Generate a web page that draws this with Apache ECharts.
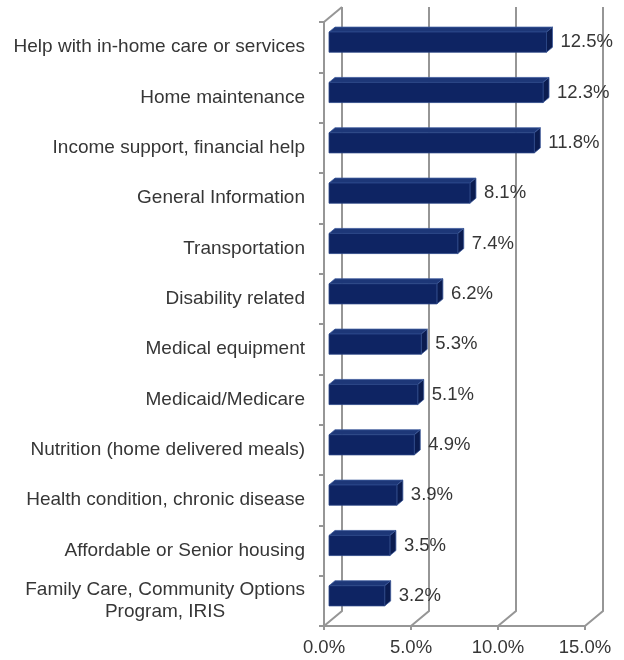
<!DOCTYPE html>
<html>
<head>
<meta charset="utf-8">
<style>
  html, body { margin: 0; padding: 0; background: #ffffff; }
  #chart { width: 624px; height: 660px; }
</style>
<script src="https://cdn.jsdelivr.net/npm/echarts@6/dist/echarts.min.js"></script>
</head>
<body>
<div id="chart"></div>
<script>
// Needs reported, share of requests (%)
const categories = [
  'Help with in-home care or services',
  'Home maintenance',
  'Income support, financial help',
  'General Information',
  'Transportation',
  'Disability related',
  'Medical equipment',
  'Medicaid/Medicare',
  'Nutrition (home delivered meals)',
  'Health condition, chronic disease',
  'Affordable or Senior housing',
  'Family Care, Community Options\nProgram, IRIS'
];
const shares = [12.5, 12.3, 11.8, 8.1, 7.4, 6.2, 5.3, 5.1, 4.9, 3.9, 3.5, 3.2];
const axisTicks = [0, 5, 10, 15];

const FONT = "'Liberation Sans', Arial, sans-serif";
const TEXT = '#363636';
const LINE = '#969696';

// depth of the 3D box (back wall offset) and of each bar
const WALL_DX = 18, WALL_DY = -15;
const BAR_DX = 5, BAR_EX = 6, BAR_EY = -5;

const chart = echarts.init(document.getElementById('chart'), null, { renderer: 'canvas' });

function renderWall(params, api) {
  const cs = params.coordSys;
  const v = api.value(0);
  const x = api.coord([v, 0])[0];
  const top = cs.y, bottom = cs.y + cs.height;
  const style = { stroke: LINE, lineWidth: 2, fill: null };
  const children = [{
    type: 'polyline',
    shape: { points: [[x, bottom], [x + WALL_DX, bottom + WALL_DY], [x + WALL_DX, top + WALL_DY]] },
    style: style
  }];
  if (v === axisTicks[0]) {
    children.push({
      type: 'line',
      shape: { x1: x, y1: top, x2: x + WALL_DX, y2: top + WALL_DY },
      style: style
    });
  }
  return { type: 'group', children: children };
}

function renderBar(params, api) {
  const idx = api.value(1);
  const val = api.value(0);
  const end = api.coord([val, idx]);
  const start = api.coord([0, idx]);
  const band = api.size([0, 1])[1];
  const h = band * 0.4;
  const yc = end[1] - 5;
  const y0 = yc - h / 2, y1 = yc + h / 2;
  const x0 = start[0] + BAR_DX, x1 = end[0] + BAR_DX;
  return {
    type: 'group',
    children: [
      { // top face
        type: 'polygon',
        shape: { points: [[x0, y0], [x0 + BAR_EX, y0 + BAR_EY], [x1 + BAR_EX, y0 + BAR_EY], [x1, y0]] },
        style: { fill: '#1d3778', stroke: '#3e5b9c', lineWidth: 0.8 }
      },
      { // end face
        type: 'polygon',
        shape: { points: [[x1, y0], [x1 + BAR_EX, y0 + BAR_EY], [x1 + BAR_EX, y1 + BAR_EY], [x1, y1]] },
        style: { fill: '#0b1c50', stroke: '#3e5b9c', lineWidth: 0.8 }
      },
      { // front face
        type: 'rect',
        shape: { x: x0, y: y0, width: x1 - x0, height: y1 - y0 },
        style: { fill: '#0e2463', stroke: '#2a4585', lineWidth: 0.8 }
      },
      {
        type: 'text',
        style: {
          x: x1 + BAR_EX + 8,
          y: yc,
          text: val.toFixed(1) + '%',
          fill: TEXT,
          font: '18.5px ' + FONT,
          verticalAlign: 'middle',
          align: 'left'
        }
      }
    ]
  };
}

const option = {
  backgroundColor: '#ffffff',
  animation: false,
  grid: { left: 324, right: 39, top: 22, bottom: 34, outerBoundsMode: 'none' },
  xAxis: {
    type: 'value',
    min: 0,
    max: 15,
    interval: 5,
    splitLine: { show: false },
    axisLine: { show: true, lineStyle: { color: LINE, width: 2 } },
    axisTick: { show: true, length: 4, lineStyle: { color: LINE, width: 2 } },
    axisLabel: {
      margin: 12,
      color: TEXT,
      fontFamily: FONT,
      fontSize: 18.5,
      formatter: v => v.toFixed(1) + '%'
    }
  },
  yAxis: {
    type: 'category',
    inverse: true,
    data: categories,
    axisLine: { show: true, lineStyle: { color: LINE, width: 2 } },
    axisTick: { show: true, length: 5, lineStyle: { color: LINE, width: 2 } },
    splitLine: { show: false },
    axisLabel: {
      margin: 19,
      color: TEXT,
      fontFamily: FONT,
      fontSize: 19,
      formatter: s => s.split('\n').map(t => '{c|' + t + '}').join('\n'),
      rich: {
        c: { fontFamily: FONT, fontSize: 19, color: TEXT, align: 'center', lineHeight: 22 }
      }
    }
  },
  series: [
    {
      type: 'custom',
      z: 1,
      clip: false,
      silent: true,
      renderItem: renderWall,
      data: axisTicks.map(v => [v, 0])
    },
    {
      type: 'custom',
      z: 2,
      clip: false,
      renderItem: renderBar,
      encode: { x: 0, y: 1 },
      data: shares.map((v, i) => [v, i])
    }
  ]
};

chart.setOption(option);
</script>
</body>
</html>
